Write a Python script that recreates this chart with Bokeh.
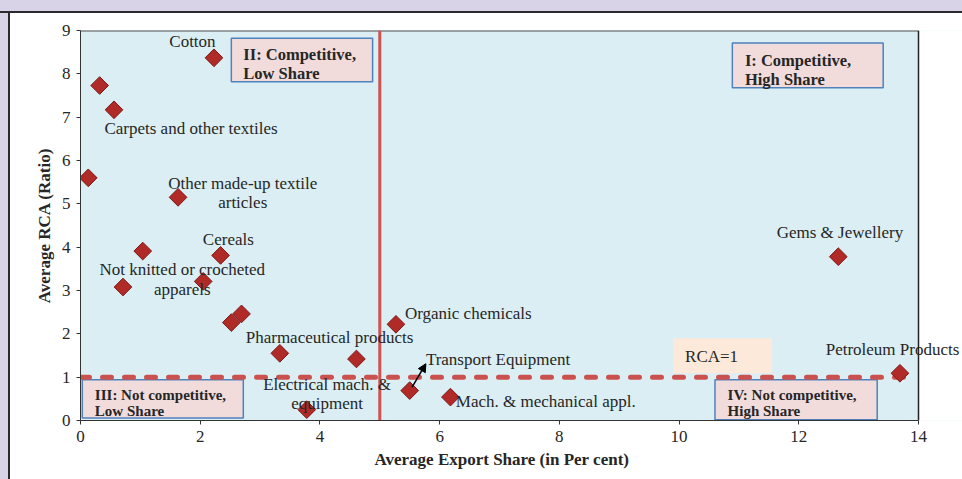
import math
from bokeh.plotting import figure
from bokeh.models import Range1d, Label, Arrow, NormalHead, Div, Title
from bokeh.layouts import column, row
from bokeh.embed import file_html
from bokeh.resources import INLINE

# ---- data ----
export_share = [2.23, 0.32, 0.56, 0.13, 1.63, 1.04, 2.34, 0.71, 2.05, 2.69,
                2.52, 3.33, 4.61, 3.78, 5.27, 5.50, 6.18, 12.66, 13.69]
avg_rca = [8.37, 7.73, 7.17, 5.60, 5.15, 3.91, 3.81, 3.08, 3.21, 2.46,
           2.26, 1.55, 1.42, 0.25, 2.22, 0.69, 0.54, 3.78, 1.09]

x_ticks = [0, 2, 4, 6, 8, 10, 12, 14]
y_ticks = [0, 1, 2, 3, 4, 5, 6, 7, 8, 9]
x_max = 14
y_max = 9

share_cutoff = 5
rca_cutoff = 1

# point labels (text, x, y, align)
point_labels = [
    ("Cotton", 1.87, 8.75, "center"),
    ("Carpets and other textiles", 0.40, 6.73, "left"),
    ("Other made-up textile", 2.71, 5.48, "center"),
    ("articles", 2.71, 5.02, "center"),
    ("Cereals", 2.47, 4.17, "center"),
    ("Not knitted or crocheted", 1.70, 3.48, "center"),
    ("apparels", 1.70, 3.02, "center"),
    ("Pharmaceutical products", 4.16, 1.91, "center"),
    ("Electrical mach. &", 4.12, 0.83, "center"),
    ("equipment", 4.12, 0.40, "center"),
    ("Organic chemicals", 5.42, 2.46, "left"),
    ("Transport Equipment", 5.77, 1.40, "left"),
    ("Mach. & mechanical appl.", 6.27, 0.445, "left"),
    ("Gems & Jewellery", 11.63, 4.34, "left"),
    ("Petroleum Products", 12.45, 1.65, "left"),
]

# quadrant boxes: (left, right, bottom, top)
quad_boxes = [
    (2.52, 4.88, 7.82, 8.82),
    (10.89, 13.41, 7.68, 8.71),
    (0.03, 2.72, 0.06, 0.94),
    (10.60, 13.31, 0.02, 0.94),
]
quad_texts = [
    ("II: Competitive,", "Low Share", 2.72, 8.44, 8.015, "16.5px"),
    ("I: Competitive,", "High Share", 11.10, 8.31, 7.88, "16.5px"),
    ("III: Not competitive,", "Low Share", 0.24, 0.60, 0.21, "15px"),
    ("IV: Not competitive,", "High Share", 10.81, 0.60, 0.21, "15px"),
]

x_title = "Average Export Share (in Per cent)"
y_title = "Average RCA (Ratio)"

SERIF = "Liberation Serif"
TXT = "#262626"
LAV = "#d9d3e8"
DARK = "#2a2a2a"

# frame spans page x 80..962; data 0..14 occupies 80..918
px_per_unit = (918 - 80) / x_max
x_end = x_max + (962 - 918) / px_per_unit

p = figure(width=952, height=466, output_backend="svg", toolbar_location=None,
           x_range=Range1d(0, x_end), y_range=Range1d(0, y_max),
           min_border_left=70, min_border_right=0, min_border_top=17,
           min_border_bottom=59, margin=(0, 0, 0, 0))
p.background_fill_color = "#daeef3"
p.border_fill_color = "white"
p.outline_line_color = None
p.xgrid.visible = False
p.ygrid.visible = False

for ax, ticks in ((p.xaxis[0], x_ticks), (p.yaxis[0], y_ticks)):
    ax.ticker = ticks
    ax.minor_tick_line_color = None
    ax.major_tick_in = 0
    ax.major_tick_out = 4
    ax.axis_line_color = "#333333"
    ax.major_tick_line_color = "#333333"
    ax.major_label_text_font = SERIF
    ax.major_label_text_font_size = "17px"
    ax.major_label_text_color = TXT
    ax.axis_label_text_font = SERIF
    ax.axis_label_text_font_size = "17px"
    ax.axis_label_text_font_style = "bold"
    ax.axis_label_text_color = TXT
    ax.major_label_standoff = 6

p.xaxis.bounds = (0, x_max)
p.yaxis.axis_label = y_title
p.yaxis.axis_label_standoff = 5

# x-axis title centred under the 0..14 span (not the widened frame)
p.add_layout(Title(text=x_title, align="left", offset=294, standoff=6,
                   text_font=SERIF, text_font_size="17px", text_font_style="bold",
                   text_color=TXT), "below")

# white area right of the plot area
p.quad(left=[x_max], right=[x_end + 1], bottom=[-1], top=[y_max + 1],
       fill_color="white", line_color=None)
# plot-area outline (top and right)
p.segment(x0=[0], y0=[y_max], x1=[x_max], y1=[y_max], line_color="#505050", line_width=2)
p.segment(x0=[x_max], y0=[0], x1=[x_max], y1=[y_max], line_color="#222222", line_width=1.5)

# quadrant boxes
p.quad(left=[b[0] for b in quad_boxes], right=[b[1] for b in quad_boxes],
       bottom=[b[2] for b in quad_boxes], top=[b[3] for b in quad_boxes],
       fill_color="#f2dcdb", line_color="#4f81bd", line_width=1.5)

# RCA=1 box
p.quad(left=[9.90], right=[11.55], bottom=[1.09], top=[1.898],
       fill_color="#fde9d9", line_color=None)

# cutoff lines
p.segment(x0=[share_cutoff], y0=[0], x1=[share_cutoff], y1=[y_max],
          line_color="#cf5250", line_width=3)
p.segment(x0=[0], y0=[rca_cutoff], x1=[13.92], y1=[rca_cutoff],
          line_color="#cb514f", line_width=5, line_dash="9 13", line_cap="round")

# markers
p.scatter(export_share, avg_rca, marker="square", angle=math.pi / 4, size=12.5,
          fill_color="#b02a28", line_color="#7d1a18", line_width=1)

# arrow
p.add_layout(Arrow(end=NormalHead(size=8, fill_color="black", line_color="black"),
                   x_start=5.54, y_start=0.77, x_end=5.77, y_end=1.31,
                   line_color="black", line_width=1.5))

for text, x, y, align in point_labels:
    p.add_layout(Label(x=x, y=y, text=text, text_align=align, text_baseline="middle",
                       text_font=SERIF, text_font_size="17px", text_color=TXT))

for l1, l2, x, y1, y2, fs in quad_texts:
    for t, y in ((l1, y1), (l2, y2)):
        p.add_layout(Label(x=x, y=y, text=t, text_align="left", text_baseline="middle",
                           text_font=SERIF, text_font_size=fs, text_font_style="bold",
                           text_color=TXT))

p.add_layout(Label(x=10.10, y=1.48, text="RCA=1", text_align="left",
                   text_baseline="middle", text_font=SERIF, text_font_size="17px",
                   text_color=TXT))

top_strip = Div(text="", width=962, height=13, margin=(0, 0, 0, 0),
                styles={"background": f"linear-gradient(to bottom, {LAV} 0px, {LAV} 11px, {DARK} 11px, {DARK} 13px)"})
left_strip = Div(text="", width=10, height=466, margin=(0, 0, 0, 0),
                 styles={"background": f"linear-gradient(to right, {LAV} 0px, {LAV} 8px, {DARK} 8px, {DARK} 10px)"})

layout = column(top_strip, row(left_strip, p, spacing=0, margin=(0, 0, 0, 0)),
                spacing=0, margin=(0, 0, 0, 0))

open("out.html", "w").write(file_html(layout, INLINE))
